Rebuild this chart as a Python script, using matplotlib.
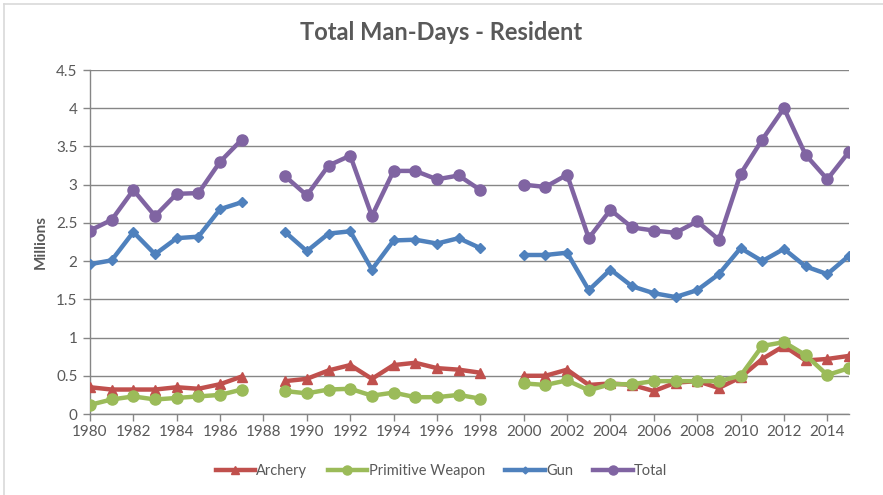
import numpy as np
import matplotlib
matplotlib.use("Agg")
import matplotlib.pyplot as plt
from matplotlib.lines import Line2D

nan = np.nan
years = list(range(1980, 2016))

archery = [0.35, 0.32, 0.32, 0.32, 0.35, 0.33, 0.39, 0.49, nan,
           0.43, 0.46, 0.57, 0.64, 0.46, 0.64, 0.67, 0.60, 0.58, 0.54, nan,
           0.50, 0.50, 0.58, 0.38, 0.40, 0.38, 0.30, 0.41, 0.43, 0.34,
           0.48, 0.72, 0.89, 0.70, 0.72, 0.76]
primitive = [0.12, 0.19, 0.23, 0.19, 0.21, 0.23, 0.25, 0.32, nan,
             0.30, 0.27, 0.32, 0.33, 0.24, 0.28, 0.22, 0.22, 0.25, 0.20, nan,
             0.40, 0.38, 0.44, 0.31, 0.39, 0.39, 0.43, 0.43, 0.43, 0.43,
             0.50, 0.89, 0.94, 0.77, 0.51, 0.60]
gun = [1.96, 2.01, 2.38, 2.09, 2.30, 2.32, 2.68, 2.77, nan,
       2.38, 2.13, 2.36, 2.39, 1.89, 2.27, 2.28, 2.23, 2.30, 2.17, nan,
       2.08, 2.08, 2.11, 1.62, 1.89, 1.67, 1.58, 1.53, 1.62, 1.83,
       2.17, 2.00, 2.16, 1.93, 1.83, 2.07]
total = [2.40, 2.54, 2.93, 2.59, 2.88, 2.89, 3.30, 3.59, nan,
         3.11, 2.86, 3.25, 3.38, 2.59, 3.18, 3.18, 3.07, 3.12, 2.93, nan,
         3.00, 2.97, 3.13, 2.30, 2.67, 2.44, 2.40, 2.37, 2.52, 2.28,
         3.14, 3.59, 4.00, 3.39, 3.07, 3.43]

series_names = ["Archery", "Primitive Weapon", "Gun", "Total"]
tick_years = list(range(1980, 2016, 2))
yticks = [0, 0.5, 1, 1.5, 2, 2.5, 3, 3.5, 4, 4.5]
ytick_labels = ["0", "0.5", "1", "1.5", "2", "2.5", "3", "3.5", "4", "4.5"]

colors = ["#C0504D", "#9BBB59", "#4F81BD", "#8064A2"]
markers = ["^", "o", "D", "o"]
msizes = [7, 8, 5, 8]

plt.rcParams['font.family'] = ['Lato', 'DejaVu Sans']
W, H = 883, 495
fig = plt.figure(figsize=(W / 100, H / 100), dpi=100)
ax = fig.add_axes([90 / W, 1 - 414 / H, (849 - 90) / W, (414 - 70) / H])

text_col = "#595959"
grid_col = "#868686"

for vals, name, c, m, ms in zip([archery, primitive, gun, total], series_names,
                                colors, markers, msizes):
    ax.plot(years, vals, color=c, lw=3.2, marker=m, markersize=ms,
            markeredgecolor=c, markerfacecolor=c, solid_joinstyle='round',
            solid_capstyle='round', label=name, zorder=3)

ax.set_xlim(1980, 2015)
ax.set_ylim(0, 4.5)
ax.set_yticks(yticks)
ax.set_yticklabels(ytick_labels)
ax.set_xticks(tick_years)
ax.set_xticklabels([str(y) for y in tick_years])
ax.yaxis.grid(True, color=grid_col, lw=1.0)
ax.set_axisbelow(True)
for s in ["top", "right"]:
    ax.spines[s].set_visible(False)
for s in ["left", "bottom"]:
    ax.spines[s].set_color(grid_col)
    ax.spines[s].set_linewidth(1.0)
ax.tick_params(axis='both', colors=grid_col, labelcolor=text_col,
               labelsize=11, length=5, width=1, direction='out')
ax.tick_params(axis='x', pad=3)
ax.tick_params(axis='y', pad=4)

ax.set_ylabel("Millions", fontsize=11, fontweight='bold', color=text_col,
              labelpad=6)
fig.text(0.5, 1 - 33 / H, "Total Man-Days - Resident", ha='center',
         va='center', fontsize=17, fontweight='bold', color=text_col)

handles = [Line2D([0], [0], color=c, lw=3.2, marker=m, markersize=ms - 1.5)
           for c, m, ms in zip(colors, markers, msizes)]
fig.legend(handles, series_names, loc='center', ncol=4,
           bbox_to_anchor=(0.5, 1 - 471 / H), frameon=False, fontsize=10.5,
           labelcolor=text_col, handlelength=2.7, handletextpad=0.1,
           columnspacing=1.4)

# chart area border (left / top visible)
fig.add_artist(Line2D([4 / W, 4 / W], [0, 1 - 4 / H], color="#D9D9D9",
                      lw=1.2, transform=fig.transFigure))
fig.add_artist(Line2D([4 / W, 1], [1 - 4 / H, 1 - 4 / H], color="#D9D9D9",
                      lw=1.2, transform=fig.transFigure))

fig.savefig("out.png", dpi=100)
